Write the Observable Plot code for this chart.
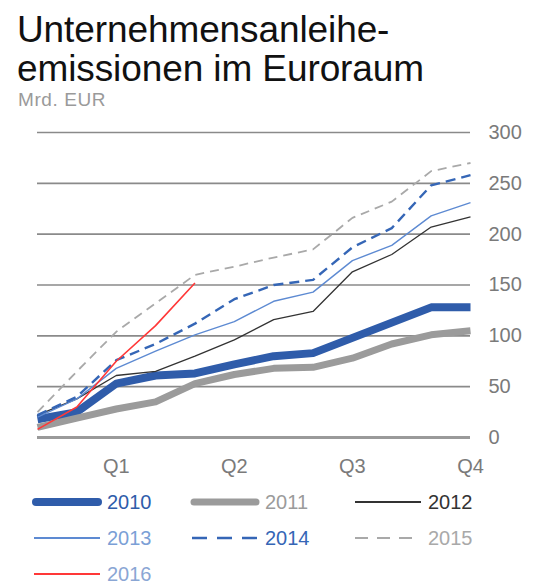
<!DOCTYPE html>
<html>
<head>
<meta charset="utf-8">
<script src="https://cdn.jsdelivr.net/npm/d3@7"></script>
<script src="https://cdn.jsdelivr.net/npm/@observablehq/plot@0.6"></script>
<style>
  html, body { margin: 0; padding: 0; background: #fff; }
  body { width: 541px; height: 584px; overflow: hidden; font-family: "Liberation Sans", Arial, sans-serif; position: relative; }
  #title { padding: 10px 0 0 17px; font-size: 37px; line-height: 39px; color: #111; white-space: nowrap; letter-spacing: -0.1px; }
  #subtitle { padding-left: 18px; margin-top: 2px; font-size: 19px; line-height: 20px; color: #9a9a9a; letter-spacing: 0.6px; }
  #chart svg { display: block; }
  #legend { position: relative; height: 99px; }
  .item { position: absolute; display: flex; align-items: center; height: 24px; font-size: 20px; }
  .item svg { display: block; }
</style>
</head>
<body>
<div id="title">Unternehmensanleihe-<br>emissionen im Euroraum</div>
<div id="subtitle">Mrd. EUR</div>
<div id="chart"></div>
<div id="legend"></div>
<script>
// ---- data ----
const months = [1, 2, 3, 4, 5, 6, 7, 8, 9, 10, 11, 12];
const quarterTicks = [3, 6, 9, 12];
const quarterLabels = ["Q1", "Q2", "Q3", "Q4"];
const yTicks = [0, 50, 100, 150, 200, 250, 300];
const years = ["2010", "2011", "2012", "2013", "2014", "2015", "2016"];

const s2010 = [18, 25, 53, 61, 63, 72, 80, 83, 98, 113, 128, 128];
const s2011 = [10, 19, 28, 35, 53, 62, 68, 69, 78, 92, 101, 105];
const s2012 = [22, 38, 61, 65, 80, 96, 116, 124, 163, 180, 207, 217];
const s2013 = [20, 38, 68, 85, 101, 114, 134, 143, 174, 189, 218, 231];
const s2014 = [22, 40, 76, 92, 112, 136, 150, 155, 187, 206, 248, 258];
const s2015 = [25, 65, 104, 132, 160, 168, 177, 185, 216, 232, 262, 270];
const s2016 = [8, 30, 75, 110, 152];

const seriesValues = [s2010, s2011, s2012, s2013, s2014, s2015, s2016];

// ---- styles ----
const styles = {
  "2010": {stroke: "#2f5caa", strokeWidth: 8, dash: null, text: "#2f5caa", legDash: null, cap: "round"},
  "2011": {stroke: "#9b9b9b", strokeWidth: 7, dash: null, text: "#9b9b9b", legDash: null, cap: "round"},
  "2012": {stroke: "#333333", strokeWidth: 1.3, dash: null, text: "#333333", legDash: null, cap: "butt"},
  "2013": {stroke: "#5d8ad2", strokeWidth: 1.4, dash: null, text: "#7b9fd6", legDash: null, cap: "butt"},
  "2014": {stroke: "#3566b6", strokeWidth: 2.4, dash: "10,6", text: "#3566b6", legDash: "15,10", cap: "butt"},
  "2015": {stroke: "#a9a9a9", strokeWidth: 1.8, dash: "9,6", text: "#a9a9a9", legDash: "13,9", cap: "butt"},
  "2016": {stroke: "#ff3838", strokeWidth: 1.6, dash: null, text: "#8aa6d4", legDash: null, cap: "butt"}
};

const data = years.flatMap((yr, i) =>
  seriesValues[i].map((v, j) => ({year: yr, month: months[j], value: v}))
);

const lineMarks = years.map(yr => Plot.line(data.filter(d => d.year === yr), {
  x: "month", y: "value",
  stroke: styles[yr].stroke,
  strokeWidth: styles[yr].strokeWidth,
  strokeDasharray: styles[yr].dash,
  strokeLinejoin: "round",
  strokeLinecap: "butt"
}));

const chart = Plot.plot({
  width: 541,
  height: 374,
  marginTop: 22,
  marginBottom: 47,
  marginLeft: 37,
  marginRight: 71,
  style: {fontFamily: "'Liberation Sans', Arial, sans-serif", fontSize: "20px", background: "white", color: "#777"},
  x: {domain: [1, 12], axis: null},
  y: {domain: [0, 300], axis: null},
  marks: [
    Plot.ruleY(yTicks.filter(t => t !== 0), {stroke: "#8a8a8a", strokeWidth: 1.6}),
    Plot.ruleY(yTicks.filter(t => t === 0), {stroke: "#9a9a9a", strokeWidth: 3.2}),
    Plot.axisY(yTicks, {anchor: "right", label: null, tickSize: 0, tickPadding: 18, fontSize: 20, fill: "#7a7a7a"}),
    Plot.axisX(quarterTicks, {anchor: "bottom", label: null, tickSize: 0, tickPadding: 21, fontSize: 20, fill: "#7a7a7a",
      tickFormat: d => quarterLabels[quarterTicks.indexOf(d)]}),
    ...lineMarks
  ]
});
document.getElementById("chart").appendChild(chart);

// ---- legend ----
const colLeft = [32, 190, 353];
const rowTop = [6, 42, 78];
const legend = document.getElementById("legend");
years.forEach((yr, i) => {
  const s = styles[yr];
  const item = document.createElement("div");
  item.className = "item";
  item.style.left = colLeft[i % 3] + "px";
  item.style.top = rowTop[Math.floor(i / 3)] + "px";
  const sw = d3.create("svg").attr("width", 75).attr("height", 24);
  sw.append("line")
    .attr("x1", s.cap === "round" ? 4 : 2).attr("x2", s.cap === "round" ? 66 : 68)
    .attr("y1", 12).attr("y2", 12)
    .attr("stroke", s.stroke)
    .attr("stroke-width", s.cap === "round" ? s.strokeWidth : Math.max(2, s.strokeWidth))
    .attr("stroke-linecap", s.cap)
    .attr("stroke-dasharray", s.legDash);
  item.appendChild(sw.node());
  const label = document.createElement("span");
  label.textContent = yr;
  label.style.color = s.text;
  item.appendChild(label);
  legend.appendChild(item);
});
</script>
</body>
</html>
